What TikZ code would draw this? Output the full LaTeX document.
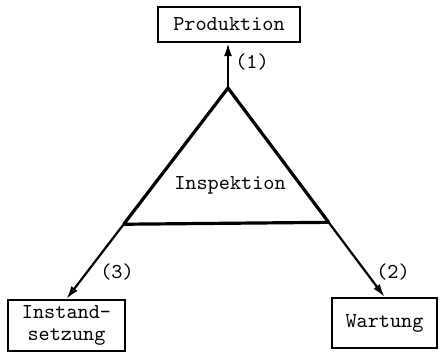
\documentclass[tikz,border=0pt]{standalone}
\usetikzlibrary{calc,arrows.meta}
\begin{document}
\begin{tikzpicture}[x=0.5pt,y=-0.5pt,
  box/.style={draw,line width=1.1pt,inner sep=0pt,align=center,font=\ttfamily\fontsize{10.6}{11}\selectfont},
  lbl/.style={inner sep=0pt,font=\ttfamily\fontsize{10.6}{11}\selectfont},
  side/.style={line width=1.6pt},
  arr/.style={line width=1.1pt,-{Latex[length=6.5pt,width=4pt]}}]
\useasboundingbox (0,0) rectangle (443,353);
\node[box,minimum width=71pt,minimum height=17.5pt] (prod) at (229,24.5) {Produktion};
\node[box,minimum width=58.5pt,minimum height=25.5pt] (inst) at (66.5,325.5) {Instand-\\setzung};
\node[box,minimum width=52.5pt,minimum height=25pt] (wart) at (384.5,323) {Wartung};
\coordinate (apex) at (228,88);
\coordinate (bl) at ($(apex)!0.646!(inst.north)$);
\coordinate (br) at ($(apex)!0.643!(wart.north)$);
\draw[side,line join=miter] (bl) -- (apex) -- (br);
\draw[side] (bl) -- (br);
\draw[arr] (apex) -- (prod.south -| apex);
\draw[arr] (bl) -- (inst.north);
\draw[arr] (br) -- (wart.north);
\node[lbl] (l1) at (252,62) {(1)};
\node[lbl] (l2) at (393,272) {(2)};
\node[lbl] (l3) at (117,272) {(3)};
\node[lbl] (insp) at (230,185) {Inspektion};
\end{tikzpicture}
\end{document}
